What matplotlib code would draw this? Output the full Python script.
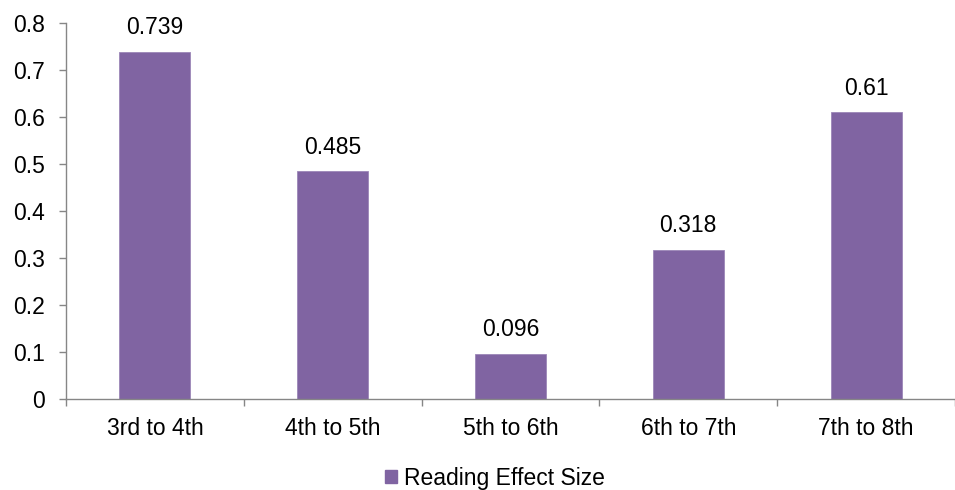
import matplotlib.pyplot as plt
from matplotlib.patches import Patch

plt.rcParams["font.family"] = ["Liberation Sans", "DejaVu Sans"]

categories = ["3rd to 4th", "4th to 5th", "5th to 6th", "6th to 7th", "7th to 8th"]
effect_size = [0.739, 0.485, 0.096, 0.318, 0.61]
series_name = "Reading Effect Size"

BAR_COLOR = "#8064A2"
AXIS_COLOR = "#868686"
FS = 16.5

W, H = 955, 490
fig = plt.figure(figsize=(W / 100, H / 100), dpi=100)
ax = fig.add_axes([66 / W, 1 - 399 / H, (W - 66) / W, (399 - 23) / H])

x = list(range(len(categories)))
bars = ax.bar(x, effect_size, width=0.4, color=BAR_COLOR, edgecolor="#9c86b8",
              linewidth=0.6, zorder=2)

for rect, v in zip(bars, effect_size):
    ax.annotate(f"{v:g}", (rect.get_x() + rect.get_width() / 2, v),
                xytext=(0, 9), textcoords="offset points",
                ha="center", va="bottom", fontsize=FS)

ax.set_xlim(-0.5, 4.39)
ax.set_ylim(0, 0.8)
ax.set_yticks([i / 10 for i in range(9)])
ax.set_yticklabels(["0"] + [f"{i / 10:.1f}" for i in range(1, 9)])

# category boundaries carry the tick marks, labels sit at the centres
ax.set_xticks([i - 0.5 for i in range(len(categories) + 1)])
ax.set_xticklabels([])
ax.set_xticks(x, minor=True)
ax.set_xticklabels(categories, minor=True)
ax.tick_params(axis="x", which="minor", length=0, pad=13, labelsize=FS)
ax.tick_params(axis="x", which="major", length=5, color=AXIS_COLOR, width=1)
ax.tick_params(axis="y", length=5, color=AXIS_COLOR, width=1, pad=10, labelsize=FS)

for side in ("top", "right"):
    ax.spines[side].set_visible(False)
for side in ("left", "bottom"):
    ax.spines[side].set_color(AXIS_COLOR)
    ax.spines[side].set_linewidth(1)
ax.spines["left"].set_position(("data", -0.5))

handle = Patch(facecolor=BAR_COLOR, edgecolor=BAR_COLOR)
fig.legend([handle], [series_name], loc="center", bbox_to_anchor=(495 / W, 1 - 478 / H),
           frameon=False, fontsize=FS, handlelength=0.5, handleheight=0.5,
           handletextpad=0.3)

fig.savefig("out.png", dpi=100)
